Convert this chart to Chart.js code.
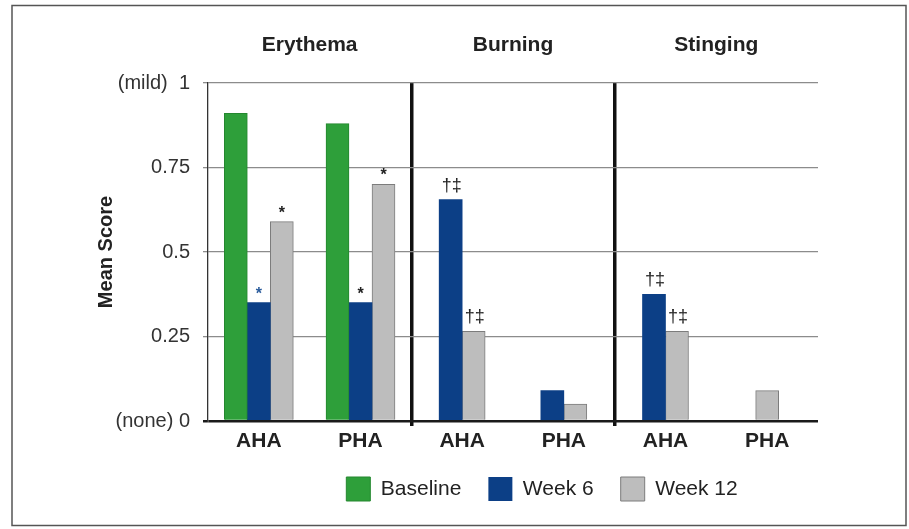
<!DOCTYPE html>
<html>
<head>
<meta charset="utf-8">
<script src="https://cdn.jsdelivr.net/npm/chart.js@4"></script>
<style>
  html, body { margin: 0; padding: 0; background: #fff; }
  canvas { display: block; }
</style>
</head>
<body>
<canvas id="c" width="909" height="529"></canvas>
<script>
// ---- data ----
const categories = ['AHA', 'PHA', 'AHA', 'PHA', 'AHA', 'PHA'];
const categoryGroups = ['Erythema', 'Erythema', 'Burning', 'Burning', 'Stinging', 'Stinging'];
const groupTitles = ['Erythema', 'Burning', 'Stinging'];
const baseline = [0.91, 0.88, null, null, null, null];
const week6 = [0.35, 0.35, 0.655, 0.09, 0.375, null];
const week12 = [0.59, 0.70, 0.265, 0.05, 0.265, 0.09];
const week6Marks = ['*', '*', '†‡', '', '†‡', ''];
const week12Marks = ['*', '*', '†‡', '', '†‡', ''];
const yTickValues = [0, 0.25, 0.5, 0.75, 1];
const yTickLabels = ['(none) 0', '0.25', '0.5', '0.75', '(mild)  1'];
const seriesNames = ['Baseline', 'Week 6', 'Week 12'];

// ---- style ----
const FONT = "'Liberation Sans', Arial, Helvetica, sans-serif";
Chart.defaults.font.family = FONT;
Chart.defaults.color = '#222';

const separatorIdx = categoryGroups.map((g, i) => (i > 0 && g !== categoryGroups[i - 1]) ? i : -1).filter(i => i >= 0);

const customPlugin = {
  id: 'custom',
  beforeDraw(chart) {
    const ctx = chart.ctx;
    ctx.save();
    ctx.fillStyle = '#fff';
    ctx.fillRect(0, 0, chart.width, chart.height);
    ctx.restore();
  },
  afterLayout(chart) {
    const lg = chart.legend;
    if (lg) {
      const dx = 542 - (lg.left + lg.right) / 2;
      lg.left += dx;
      lg.right += dx;
    }
  },
  afterDatasetsDraw(chart) {
    const ctx = chart.ctx;
    const sets = [[1, week6Marks], [2, week12Marks]];
    ctx.save();
    ctx.textAlign = 'center';
    ctx.textBaseline = 'alphabetic';
    sets.forEach(([di, marks]) => {
      const meta = chart.getDatasetMeta(di);
      marks.forEach((m, i) => {
        if (!m) return;
        const el = meta.data[i];
        if (!el) return;
        if (m === '*') {
          ctx.font = 'bold 16px ' + FONT;
          ctx.fillStyle = (di === 1 && i === 0) ? '#2b5c9c' : '#222';
          ctx.fillText(m, el.x, el.y - 4);
        } else {
          ctx.font = '18px ' + FONT;
          ctx.fillStyle = '#222';
          ctx.fillText(m, el.x + 1, el.y - 9);
        }
      });
    });
    ctx.restore();
  },
  afterDraw(chart) {
    const ctx = chart.ctx;
    ctx.save();
    ctx.strokeStyle = '#555';
    ctx.lineWidth = 1.5;
    ctx.strokeRect(12, 5.5, 894, 520);
    ctx.restore();
  }
};

new Chart(document.getElementById('c'), {
  type: 'bar',
  data: {
    labels: categories,
    datasets: [
      { label: seriesNames[0], data: baseline, backgroundColor: '#2e9f3a', borderColor: '#24872f', borderWidth: 1 },
      { label: seriesNames[1], data: week6, backgroundColor: '#0c3f86', borderColor: '#0c3f86', borderWidth: 0 },
      { label: seriesNames[2], data: week12, backgroundColor: '#bdbdbd', borderColor: '#7c7c7c', borderWidth: 1 }
    ]
  },
  options: {
    responsive: false,
    animation: false,
    devicePixelRatio: 1,
    skipNull: true,
    barThickness: 23,
    layout: { padding: { left: 0, right: 91, top: 31, bottom: 18 } },
    plugins: {
      legend: {
        position: 'bottom',
        labels: {
          boxWidth: 24, boxHeight: 24, padding: 27,
          font: { size: 21 }, color: '#222'
        }
      },
      tooltip: { enabled: false }
    },
    scales: {
      x: {
        offset: true,
        grid: {
          offset: true,
          color: ctx => separatorIdx.includes(ctx.index) ? '#111' : 'rgba(0,0,0,0)',
          lineWidth: ctx => separatorIdx.includes(ctx.index) ? 3.5 : 1,
          tickLength: 5,
          drawTicks: true
        },
        border: { display: false },
        ticks: { font: { size: 21, weight: 'bold' }, color: '#222', padding: 3 },
        afterFit(scale) { scale.height = 29; }
      },
      x2: {
        type: 'category',
        labels: groupTitles,
        position: 'top',
        offset: true,
        grid: { display: false, drawTicks: false },
        border: { display: false },
        ticks: { font: { size: 21, weight: 'bold' }, color: '#222', padding: 25 },
        afterFit(scale) { scale.height = 52; }
      },
      y: {
        min: 0, max: 1,
        ticks: {
          stepSize: 0.25,
          padding: 13,
          font: { size: 20 }, color: '#333',
          callback: (v) => {
            const k = yTickValues.findIndex(t => Math.abs(t - v) < 1e-9);
            return k >= 0 ? yTickLabels[k] : '';
          }
        },
        grid: {
          color: ctx => (ctx.tick && ctx.tick.value === 0) ? '#1a1a1a' : '#8c8c8c',
          lineWidth: ctx => (ctx.tick && ctx.tick.value === 0) ? 2.5 : 1.3,
          tickLength: 5,
          drawTicks: true
        },
        border: { display: true, color: '#333', width: 1.3 },
        title: {
          display: true, text: 'Mean Score',
          font: { size: 20, weight: 'bold' }, color: '#222',
          padding: { top: 94, bottom: 0 }
        },
        afterFit(scale) { scale.width = 208; }
      }
    }
  },
  plugins: [customPlugin]
});
</script>
</body>
</html>
